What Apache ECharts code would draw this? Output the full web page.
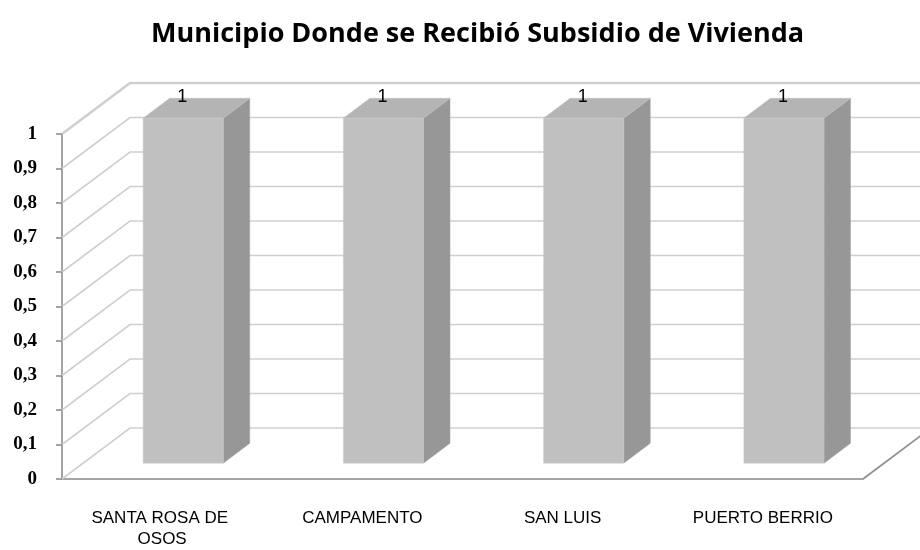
<!DOCTYPE html>
<html>
<head>
<meta charset="utf-8">
<script src="https://cdn.jsdelivr.net/npm/echarts@6/dist/echarts.min.js"></script>
<style>
    html, body { margin: 0; padding: 0; background: #fff; }
    #chart { width: 920px; height: 550px; }
</style>
</head>
<body>
<div id="chart"></div>
<script>
// 数据
const categories = ['SANTA ROSA DE OSOS', 'CAMPAMENTO', 'SAN LUIS', 'PUERTO BERRIO']
const values = [1, 1, 1, 1]
const yTicks = [0, 0.1, 0.2, 0.3, 0.4, 0.5, 0.6, 0.7, 0.8, 0.9, 1]

// 伪3D的景深偏移
const DX = 68
const DY = -51

const chart = echarts.init(document.getElementById('chart'))

// 背景墙 + 地板
function renderWall(params, api) {
    const v = api.value(0)
    const p0 = api.coord([0, v])
    const p4 = api.coord([categories.length, v])
    const children = [{
        type: 'polyline',
        shape: { points: [p0, [p0[0] + DX, p0[1] + DY], [p4[0] + DX, p4[1] + DY]] },
        style: { stroke: '#cfcfcf', lineWidth: v === 1 ? 2.5 : 1.6, fill: null }
    }]
    if (v === 0) {
        children.push({
            type: 'line',
            shape: { x1: p4[0], y1: p4[1], x2: p4[0] + DX, y2: p4[1] + DY },
            style: { stroke: '#8c8c8c', lineWidth: 1.6 }
        })
    }
    return { type: 'group', children: children }
}

// 立体柱子
function renderBar(params, api) {
    const i = api.value(0)
    const v = api.value(1)
    const top = api.coord([i, v])
    const bot = api.coord([i, 0])
    const w = api.size([1, 0])[0] * 0.4
    const f = [DX * 0.31, DY * 0.31]
    const b = [DX * 0.7, DY * 0.7]
    const lf = top[0] - w / 2 + f[0], rf = top[0] + w / 2 + f[0]
    const lb = top[0] - w / 2 + b[0], rb = top[0] + w / 2 + b[0]
    const tf = top[1] + f[1], tb = top[1] + b[1]
    const bf = bot[1] + f[1], bb = bot[1] + b[1]
    return {
        type: 'group',
        children: [
            {
                type: 'polygon',
                shape: { points: [[rf, tf], [rb, tb], [rb, bb], [rf, bf]] },
                style: { fill: '#979797', stroke: '#a4a4a4', lineWidth: 0.5 }
            },
            {
                type: 'polygon',
                shape: { points: [[lf, tf], [lb, tb], [rb, tb], [rf, tf]] },
                style: { fill: '#b4b4b4', stroke: '#bcbcbc', lineWidth: 0.5 }
            },
            {
                type: 'rect',
                shape: { x: lf, y: tf, width: w, height: bf - tf },
                style: { fill: '#c0c0c0', stroke: '#c8c8c8', lineWidth: 0.5 }
            },
            {
                type: 'text',
                style: {
                    text: String(v),
                    x: top[0] + f[0] - 1,
                    y: tf - 21,
                    align: 'center',
                    verticalAlign: 'middle',
                    fontSize: 18,
                    fontFamily: 'Liberation Sans',
                    fill: '#000'
                }
            }
        ]
    }
}

const option = {
    animation: false,
    title: {
        text: 'Municipio Donde se Recibió Subsidio de Vivienda',
        left: 146,
        top: 16,
        textStyle: {
            fontFamily: 'Open Sans',
            fontSize: 27,
            fontWeight: 'bold',
            color: '#000'
        }
    },
    grid: { left: 62, right: 57, top: 134, bottom: 71 },
    xAxis: [
        {
            type: 'category',
            data: categories,
            axisLine: { lineStyle: { color: '#868686', width: 1.5 } },
            axisTick: { length: 6, lineStyle: { color: '#868686', width: 1.5 } },
            axisLabel: {
                interval: 0,
                margin: 29,
                width: 150,
                overflow: 'break',
                lineHeight: 21,
                fontSize: 17,
                fontFamily: 'Liberation Sans',
                color: '#000'
            },
            splitLine: { show: false }
        },
        {
            type: 'value',
            min: 0,
            max: categories.length,
            show: false
        }
    ],
    yAxis: {
        type: 'value',
        min: 0,
        max: 1,
        interval: 0.1,
        axisLine: { show: true, lineStyle: { color: '#868686', width: 1.5 } },
        axisTick: { show: true, length: 6, lineStyle: { color: '#868686', width: 1.5 } },
        axisLabel: {
            margin: 25,
            fontSize: 19,
            fontWeight: 'bold',
            fontFamily: 'Liberation Serif',
            color: '#000',
            formatter: v => String(Math.round(v * 10) / 10).replace('.', ',')
        },
        splitLine: { show: false }
    },
    series: [
        {
            type: 'custom',
            xAxisIndex: 1,
            yAxisIndex: 0,
            z: 1,
            silent: true,
            renderItem: renderWall,
            encode: { x: -1, y: 0 },
            data: yTicks.map(v => [v])
        },
        {
            type: 'custom',
            xAxisIndex: 0,
            yAxisIndex: 0,
            z: 5,
            renderItem: renderBar,
            encode: { x: 0, y: 1 },
            data: values.map((v, i) => [i, v])
        }
    ]
}

chart.setOption(option)

window.addEventListener('resize', () => {
    chart.resize()
})
</script>
</body>
</html>
